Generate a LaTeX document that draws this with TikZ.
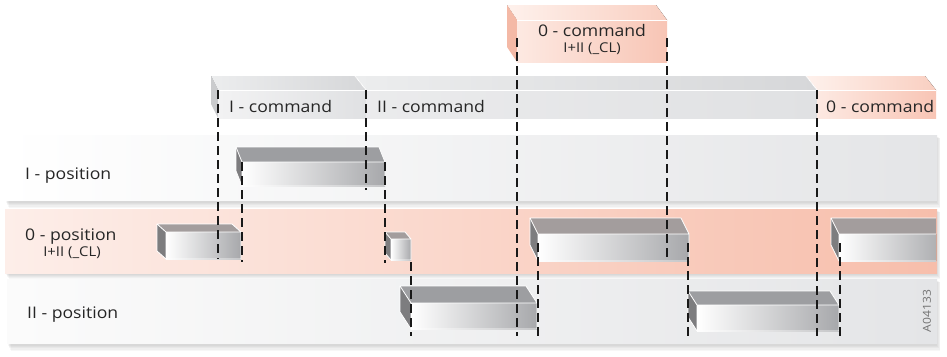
\documentclass[tikz,border=0pt]{standalone}
\usepackage{fontspec}
\setmainfont[FakeStretch=1.1]{Open Sans}
\definecolor{txt}{HTML}{262626}
\definecolor{bandgray}{HTML}{E4E5E7}
\definecolor{pinkL}{HTML}{FDEEE9}
\definecolor{pinkR}{HTML}{F7BEAB}
\definecolor{topgray}{HTML}{9D9EA1}
\definecolor{toppink}{HTML}{A39D9D}
\definecolor{sidegray}{HTML}{7D7D7F}
\definecolor{frontgray}{HTML}{A7A8AB}
\definecolor{cmdfrontL}{HTML}{F2F2F3}
\definecolor{cmdfrontR}{HTML}{E0E1E3}
\definecolor{cmdtopL}{HTML}{ECEDEE}
\definecolor{cmdtopR}{HTML}{D6D7D9}
\definecolor{cmdside}{HTML}{CACBCD}
\definecolor{cpinkfL}{HTML}{FDE9E2}
\definecolor{cpinkfR}{HTML}{F8C5B5}
\definecolor{cpinktL}{HTML}{FEF1EC}
\definecolor{cpinktR}{HTML}{F9CFC1}
\definecolor{cpinkside}{HTML}{F4B9A6}
\newcommand\gbox[7]{%
  \fill[#7] (#1-#5,#3-#6) -- (#2-#5,#3-#6) -- (#2,#3) -- (#1,#3) -- cycle;
  \fill[sidegray] (#1-#5,#3-#6) -- (#1,#3) -- (#1,#4) -- (#1-#5,#4-#6) -- cycle;
  \fill[left color=white, right color=frontgray] (#1,#3) rectangle (#2,#4);
  \draw[edge] (#1,#3) -- (#1-#5,#3-#6) -- (#2-#5,#3-#6) -- (#2,#3) -- (#1,#3) -- (#1,#4) -- (#2,#4) -- (#2,#3);
  \draw[edge] (#1-#5,#3-#6) -- (#1-#5,#4-#6) -- (#1,#4);
}
\begin{document}
\begin{tikzpicture}[x=1pt,y=-1pt,
  edge/.style={white, line width=0.8pt, line join=round},
  dashline/.style={black!90, line width=1.2pt, dash pattern=on 9pt off 5pt},
  lab/.style={text=txt, font=\fontsize{16}{19}\selectfont, inner sep=0pt},
  sublab/.style={text=txt, font=\fontsize{13.5}{16}\selectfont, inner sep=0pt},
  shadowbox/.style={fill=black, fill opacity=0.03}]
\useasboundingbox (0,0) rectangle (947,356);
\fill[white] (0,0) rectangle (947,356);
% band shadows
\foreach \i in {1,...,6} {
  \fill[shadowbox] (5+0.6*\i,135+0.5*\i) rectangle (936+0.7*\i,200+1.3*\i);
  \fill[shadowbox] (5+0.6*\i,209+0.5*\i) rectangle (936+0.7*\i,273+1.0*\i);
  \fill[shadowbox] (7+0.6*\i,279+0.5*\i) rectangle (936+0.7*\i,343+1.3*\i);
}
% bands
\fill[left color=white, right color=bandgray] (5,135) rectangle (937,200);
\fill[left color=pinkL, right color=pinkR] (5,209) rectangle (937,273);
\fill[left color=white!97!gray, right color=bandgray] (7,279) rectangle (937,343);
% command bars (row)
\fill[left color=cmdtopL, right color=cmdtopR] (211,76) -- (355,76) -- (366,90) -- (218,90) -- cycle;
\fill[cmdside] (211,76) -- (218,90) -- (218,118) -- (211,104) -- cycle;
\fill[left color=cmdfrontL, right color=cmdfrontR] (218,90) rectangle (366,118);
\fill[left color=cmdtopL, right color=cmdtopR] (355,76) -- (806,76) -- (817,90) -- (366,90) -- cycle;
\fill[left color=cmdfrontL!60!cmdfrontR, right color=cmdfrontR] (366,90) rectangle (817,118);
\fill[left color=cpinktL, right color=cpinktR] (806,76) -- (925,76) -- (936,90) -- (817,90) -- cycle;
\fill[left color=cpinkfL, right color=cpinkfR] (817,90) rectangle (936,118);
\draw[edge] (218,90) -- (936,90);
\draw[edge] (355,76) -- (366,90);
\draw[edge] (806,76) -- (817,90);
% top 0-command
\fill[left color=cpinktL, right color=cpinktR] (507,5) -- (656,5) -- (667,20) -- (517,20) -- cycle;
\fill[cpinkside] (507,5) -- (517,20) -- (517,62) -- (507,47) -- cycle;
\fill[left color=cpinkfL, right color=cpinkfR] (517,20) rectangle (667,62);
\draw[edge] (517,20) -- (667,20);
% position boxes
\gbox{242}{385}{162}{186}{6}{15}{topgray}
\gbox{166}{241}{232}{259}{9}{8}{toppink}
\gbox{391}{411}{239}{260}{6}{7}{toppink}
\gbox{411}{537}{303}{329}{11}{17}{topgray}
\gbox{538}{689}{234}{261}{8}{16}{toppink}
\gbox{697}{839}{305}{331}{9}{14}{topgray}
\begin{scope}
  \clip (820,200) rectangle (936,270);
  \gbox{839}{946}{234}{261}{8}{16}{toppink}
\end{scope}
% dashed lines
\draw[dashline] (218,90) -- (218,259);
\draw[dashline] (242,162) -- (242,262);
\draw[dashline] (366,90) -- (366,190);
\draw[dashline] (385,162) -- (385,263);
\draw[dashline] (411,262) -- (411,336);
\draw[dashline] (517,38) -- (517,336);
\draw[dashline] (538,243) -- (538,336);
\draw[dashline] (667,38) -- (667,261);
\draw[dashline] (688,243) -- (688,336);
\draw[dashline] (817,90) -- (817,336);
\draw[dashline] (840,243) -- (840,336);
% labels
\node[lab, anchor=base west] (ipos) at (25,179) {I - position};
\node[lab, anchor=base west] (opos) at (25,240) {0 - position};
\node[sublab, anchor=base] (opossub) at (72,256) {I+II (\_CL)};
\node[lab, anchor=base west] (iipos) at (27,318) {II - position};
\node[lab, anchor=base west] (icmd) at (229,112) {I - command};
\node[lab, anchor=base west] (iicmd) at (377,112) {II - command};
\node[lab, anchor=base west] (ocmd) at (826,112) {0 - command};
\node[lab, anchor=base] (ocmdtop) at (592,36) {0 - command};
\node[sublab, anchor=base] (ocmdsub) at (592,52) {I+II (\_CL)};
\node[text=black!55, font=\fontsize{11}{13}\selectfont, inner sep=0pt, rotate=90] (code) at (927,311) {A04133};
\end{tikzpicture}
\end{document}
